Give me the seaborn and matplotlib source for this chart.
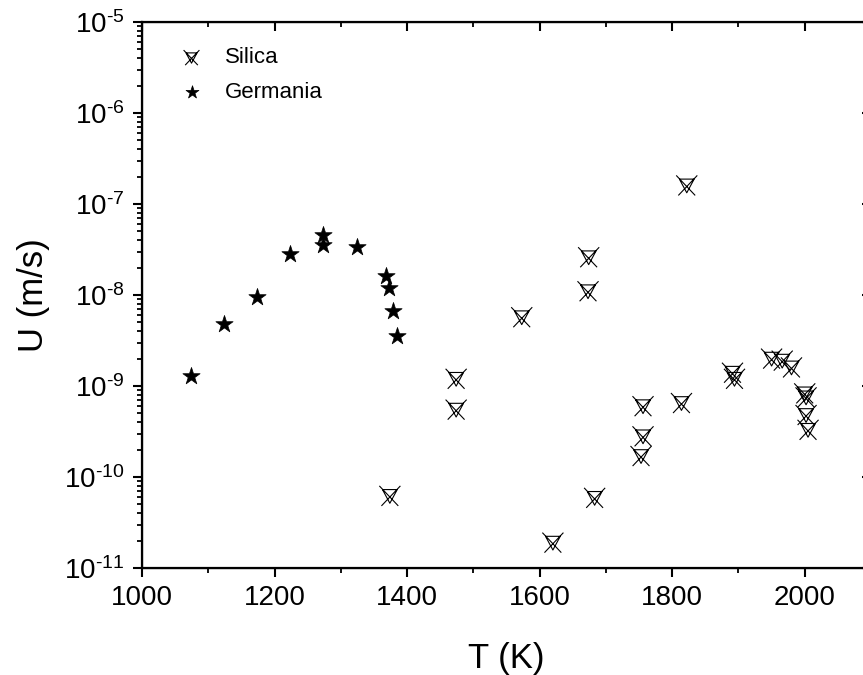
import numpy as np
import matplotlib
matplotlib.use("Agg")
import matplotlib.pyplot as plt
from matplotlib.path import Path
from matplotlib.ticker import LogLocator, NullFormatter, MultipleLocator, FuncFormatter
import seaborn as sns

# Data
germania_T = [1074, 1124, 1173, 1223, 1273, 1273, 1324, 1368, 1373, 1379, 1385]
germania_U = [1.3e-9, 4.8e-9, 9.5e-9, 2.8e-8, 4.6e-8, 3.5e-8, 3.4e-8, 1.6e-8, 1.2e-8, 6.6e-9, 3.5e-9]

silica_T = [1374, 1474, 1474, 1573, 1620, 1673, 1674, 1683, 1753, 1756, 1756,
            1814, 1822, 1891, 1894, 1950, 1966, 1980, 2000, 2002, 2002, 2005]
silica_U = [6.2e-11, 1.2e-9, 5.5e-10, 5.7e-9, 1.9e-11, 1.1e-8, 2.6e-8, 5.9e-11, 1.7e-10, 2.8e-10, 6.0e-10,
            6.5e-10, 1.6e-7, 1.4e-9, 1.2e-9, 2.0e-9, 1.9e-9, 1.6e-9, 8.3e-10, 7.5e-10, 4.8e-10, 3.3e-10]

sns.set_style("ticks", {"axes.edgecolor": "black", "xtick.color": "black", "ytick.color": "black",
                        "text.color": "black", "axes.labelcolor": "black"})
plt.rcParams["font.family"] = ["Liberation Sans", "DejaVu Sans"]
plt.rcParams["mathtext.fontset"] = "custom"
plt.rcParams["mathtext.rm"] = "Liberation Sans"
plt.rcParams["mathtext.it"] = "Liberation Sans"
plt.rcParams["mathtext.sf"] = "Liberation Sans"

# open down-triangle crossed by an X, like the Origin symbol
verts = [(-0.7, 0.6), (0.7, 0.6), (0.0, -0.7), (-0.7, 0.6),
         (-1.0, 0.95), (0.8, -0.95),
         (1.0, 0.95), (-0.8, -0.95)]
codes = [Path.MOVETO, Path.LINETO, Path.LINETO, Path.LINETO,
         Path.MOVETO, Path.LINETO,
         Path.MOVETO, Path.LINETO]
silica_marker = Path(verts, codes)


def decade_label(v, pos):
    e = int(round(np.log10(v)))
    return r"10$^{\text{%d}}$" % e


fig = plt.figure(figsize=(8.63, 6.75), dpi=100)
ax = fig.add_axes([142 / 863, 1 - 568 / 675, (871 - 142) / 863, (568 - 22) / 675])

sns.scatterplot(x=silica_T, y=silica_U, marker=silica_marker, s=230, facecolor="none",
                edgecolor="black", linewidth=0.8, label="Silica", ax=ax)
sns.scatterplot(x=germania_T, y=germania_U, marker="*", s=170, color="black",
                edgecolor="black", linewidth=0.5, label="Germania", ax=ax)

ax.set_yscale("log")
ax.set_xlim(1000, 2100)
ax.set_ylim(1e-11, 1e-5)
ax.xaxis.set_major_locator(MultipleLocator(200))
ax.xaxis.set_minor_locator(MultipleLocator(100))
ax.yaxis.set_major_locator(LogLocator(base=10, numticks=10))
ax.yaxis.set_major_formatter(FuncFormatter(decade_label))
ax.yaxis.set_minor_locator(LogLocator(base=10, subs=np.arange(2, 10), numticks=20))
ax.yaxis.set_minor_formatter(NullFormatter())

for sp in ax.spines.values():
    sp.set_linewidth(1.6)
ax.tick_params(which="major", direction="out", length=6.5, width=1.5, labelsize=20, pad=6)
ax.tick_params(which="minor", direction="out", length=3.5, width=1.3)

# inward ticks on the top and right sides
axt = ax.twiny()
axt.set_xlim(ax.get_xlim())
axt.xaxis.set_major_locator(MultipleLocator(200))
axt.xaxis.set_minor_locator(MultipleLocator(100))
axt.tick_params(axis="x", which="major", direction="in", length=6.5, width=1.5, labeltop=False)
axt.tick_params(axis="x", which="minor", direction="in", length=3.5, width=1.3)
axr = ax.twinx()
axr.set_yscale("log")
axr.set_ylim(ax.get_ylim())
axr.tick_params(axis="y", which="major", direction="in", length=6.5, width=1.5, labelright=False)
axr.tick_params(axis="y", which="minor", direction="in", length=3.5, width=1.3)
axr.yaxis.set_minor_formatter(NullFormatter())

ax.set_xlabel("T (K)", fontsize=25, labelpad=22)
ax.set_ylabel("U (m/s)", fontsize=25, labelpad=10)

leg = ax.legend(loc="upper left", bbox_to_anchor=(0.01, 0.99), frameon=False,
                fontsize=16, handletextpad=0.5, labelspacing=0.6, markerscale=0.75)

fig.savefig("out.png", dpi=100)
